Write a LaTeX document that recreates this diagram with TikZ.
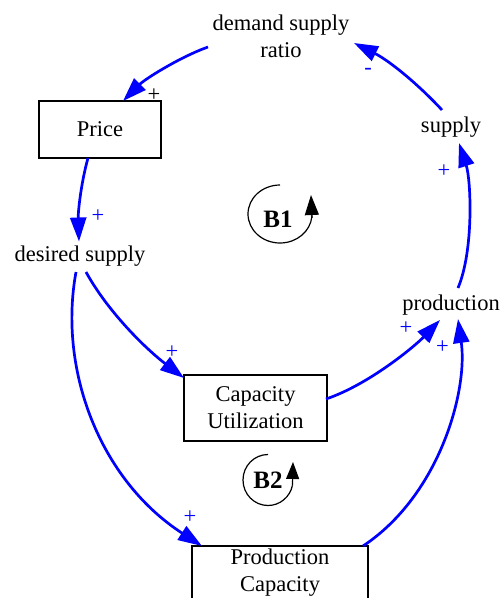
\documentclass[tikz,border=0pt]{standalone}
\usepackage{fontspec}
\setmainfont{Liberation Serif}
\usetikzlibrary{arrows.meta}
\definecolor{linkblue}{RGB}{0,0,255}
\begin{document}
\begin{tikzpicture}[x=1pt,y=-1pt,
  every node/.style={font=\fontsize{22.5}{27}\selectfont, inner sep=0pt, outer sep=0pt},
  var/.style={align=center},
  stock/.style={draw, line width=1.2pt, align=center},
  link/.style={draw=linkblue, line width=2.7pt, -{Triangle[length=24pt,width=16pt]}},
  pol/.style={text=linkblue},
  loopname/.style={font=\fontsize{25}{30}\selectfont\bfseries},
  looparc/.style={line width=1.2pt}
]
\useasboundingbox (0,0) rectangle (501,598);

% variables
\node[var] (dsr) at (281,36) {demand supply\\ratio};
\node[var] (supply) at (451,127) {supply};
\node[var] (desired) at (80,256) {desired supply};
\node[var] (production) at (451,305) {production};

% stocks
\node[stock, minimum width=122pt, minimum height=57pt] (price) at (100,129.5) {Price};
\node[stock, minimum width=143pt, minimum height=66pt] (cu) at (255.5,408) {Capacity\\Utilization};
\node[stock, minimum width=176pt, minimum height=54pt] (pc) at (280,573) {Production\\Capacity};

% links
\draw[link] ([shift={(-73,11)}]dsr.center) .. controls (180,57) and (145,79) .. ([shift={(23,-28.5)}]price.center);
\draw[link] ([shift={(-9,-17)}]supply.center) .. controls (416,82) and (388,60) .. ([shift={(73,7)}]dsr.center);
\draw[link] ([shift={(-12,28.5)}]price.center) .. controls (81,183) and (78,212) .. ([shift={(-1,-14.5)}]desired.center);
\draw[link] ([shift={(7,-17)}]production.center) .. controls (474,250) and (471,180) .. ([shift={(8,16)}]supply.center);
\draw[link] ([shift={(6,16)}]desired.center) .. controls (108,312) and (146,349) .. ([shift={(-71.5,-30)}]cu.center);
\draw[link] ([shift={(70.5,-9)}]cu.center) .. controls (369,384.5) and (415,346) .. ([shift={(-11,15)}]production.center);
\draw[link] ([shift={(-4,16)}]desired.center) .. controls (58,370) and (100,480) .. ([shift={(-78,-27)}]pc.center);
\draw[link] ([shift={(83,-27)}]pc.center) .. controls (440,495) and (468,390) .. ([shift={(7,14)}]production.center);

% polarities
\node (s1) at (154,95) {+};
\node[pol] (s2) at (368,71) {-};
\node[pol] (s3) at (98,216) {+};
\node[pol] (s4) at (444,171.5) {+};
\node[pol] (s5) at (172,352.5) {+};
\node[pol] (s6) at (406,328) {+};
\node[pol] (s7) at (442.5,347.5) {+};
\node[pol] (s8) at (190,517.5) {+};

% loops
\node[loopname] (b1) at (278,219) {B1};
\draw[looparc] ([shift={(2,-34)}]b1.center) arc[start angle=90, end angle=355, x radius=32pt, y radius=29pt]
  -- ++(0,-5);
\draw[looparc, -{Triangle[length=20pt,width=14pt]}] ([shift={(34,-1)}]b1.center) -- ([shift={(33,-24)}]b1.center);

\node[loopname] (b2) at (268,480) {B2};
\draw[looparc] ([shift={(0,-25.5)}]b2.center) arc[start angle=90, end angle=348, x radius=25pt, y radius=25.5pt];
\draw[looparc, -{Triangle[length=17pt,width=13pt]}] ([shift={(24.5,5)}]b2.center) -- ([shift={(25,-18)}]b2.center);
\end{tikzpicture}
\end{document}
